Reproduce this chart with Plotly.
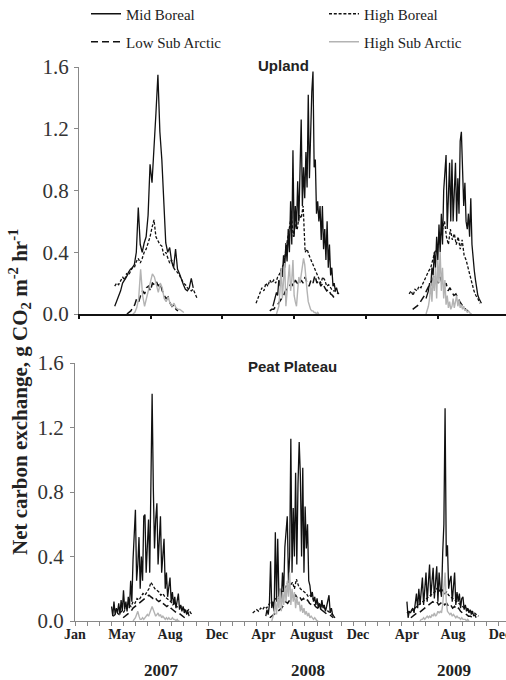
import plotly.graph_objects as go
import pandas as pd

# ---------------- data ----------------
SERIES = ["Mid Boreal", "High Boreal", "Low Sub Arctic", "High Sub Arctic"]
PANELS = ["Upland", "Peat Plateau"]
YEAR_LABELS = ["2007", "2008", "2009"]
MONTH_LABELS = ["Jan", "May", "Aug", "Dec", "Apr", "August", "Dec", "Apr", "Aug", "Dec"]
MONTH_LABEL_DATES = ["2007-01-01", "2007-04-29", "2007-08-28", "2007-12-24", "2008-04-19",
                     "2008-08-18", "2008-12-13", "2009-04-15", "2009-08-09", "2009-12-05"]
Y_TICKS = [0.0, 0.4, 0.8, 1.2, 1.6]

# Upland -------------------------------------------------------------
U_MB_2007 = [0.05, 0.08, 0.12, 0.15, 0.2, 0.22, 0.24, 0.27, 0.29, 0.3, 0.32, 0.4, 0.69, 0.45, 0.4, 0.46,
             0.5, 0.64, 0.97, 0.85, 1.05, 1.3, 1.55, 1.18, 1.0, 0.7, 0.46, 0.4, 0.43, 0.34, 0.3, 0.42,
             0.29, 0.26, 0.22, 0.19, 0.16, 0.15, 0.17, 0.23, 0.17]
U_HB_2007 = [0.18, 0.2, 0.19, 0.22, 0.24, 0.22, 0.26, 0.25, 0.28, 0.3, 0.3, 0.34, 0.36, 0.33, 0.36, 0.4,
             0.42, 0.46, 0.5, 0.56, 0.61, 0.5, 0.47, 0.45, 0.44, 0.38, 0.4, 0.36, 0.33, 0.35, 0.3, 0.28,
             0.27, 0.25, 0.22, 0.2, 0.19, 0.17, 0.16, 0.15, 0.16, 0.13, 0.1]
U_LSA_2007 = [0.0, 0.01, 0.02, 0.04, 0.06, 0.1, 0.08, 0.12, 0.15, 0.13, 0.17, 0.18, 0.15, 0.2, 0.19, 0.21,
              0.18, 0.2, 0.15, 0.12, 0.1, 0.11, 0.07, 0.05, 0.06, 0.03, 0.02]
U_HSA_2007 = [0.0, 0.01, 0.04, 0.1, 0.29, 0.12, 0.05, 0.1, 0.16, 0.2, 0.26, 0.24, 0.18, 0.14, 0.2, 0.17,
              0.1, 0.08, 0.11, 0.07, 0.05, 0.07, 0.04, 0.03, 0.03, 0.02, 0.01]

U_MB_2008 = [0.05, 0.08, 0.1, 0.14, 0.12, 0.22, 0.18, 0.28, 0.24, 0.38, 0.3, 0.46, 0.34, 0.55, 0.4, 0.73,
             0.45, 1.06, 0.5, 0.7, 0.55, 0.86, 0.6, 0.9, 1.26, 0.7, 0.95, 0.75, 1.05, 0.82, 1.42, 0.88,
             1.2, 1.44, 1.57, 0.95, 1.0, 0.65, 0.73, 0.6, 0.7, 0.48, 0.7, 0.42, 0.55, 0.35, 0.6, 0.3,
             0.45, 0.25, 0.3, 0.18, 0.2, 0.15, 0.17, 0.14, 0.13]
U_HB_2008 = [0.07, 0.1, 0.13, 0.17, 0.15, 0.2, 0.18, 0.22, 0.2, 0.22, 0.2, 0.24, 0.26, 0.3, 0.32, 0.4,
             0.45, 0.55, 0.64, 0.5, 0.58, 0.55, 0.64, 0.62, 0.7, 0.4, 0.42, 0.38, 0.35, 0.32, 0.28, 0.26,
             0.22, 0.2, 0.24, 0.22, 0.18, 0.19, 0.17, 0.15, 0.15, 0.14, 0.13]
U_LSA_2008 = [0.02, 0.03, 0.03, 0.05, 0.06, 0.08, 0.1, 0.12, 0.15, 0.17, 0.18, 0.2, 0.18, 0.22, 0.2, 0.19,
              0.22, 0.2, 0.24, 0.2, 0.18, 0.22, 0.2, 0.25, 0.2, 0.22, 0.18, 0.2, 0.17, 0.15, 0.16, 0.13,
              0.12, 0.1]
U_HSA_2008 = [0.0, 0.02, 0.05, 0.15, 0.3, 0.1, 0.2, 0.33, 0.05, 0.15, 0.25, 0.32, 0.15, 0.22, 0.35, 0.12,
              0.08, 0.05, 0.15, 0.24, 0.2, 0.25, 0.3, 0.36, 0.32, 0.2, 0.15, 0.08, 0.05, 0.03, 0.02, 0.02,
              0.01, 0.01, 0.0, 0.01, 0.0]

U_MB_2009 = [0.1, 0.12, 0.15, 0.2, 0.18, 0.3, 0.25, 0.4, 0.3, 0.5, 0.35, 0.58, 0.4, 0.65, 0.45, 0.8,
             0.92, 1.03, 0.55, 0.75, 0.98, 0.6, 1.0, 0.6, 0.75, 0.98, 0.6, 0.88, 0.65, 1.12, 1.18, 0.9,
             0.7, 0.85, 0.6, 0.55, 0.65, 0.5, 0.75, 0.45, 0.35, 0.28, 0.22, 0.15, 0.12, 0.1, 0.08, 0.07]
U_HB_2009 = [0.13, 0.15, 0.12, 0.16, 0.15, 0.18, 0.17, 0.2, 0.22, 0.25, 0.28, 0.3, 0.35, 0.4, 0.42, 0.45,
             0.5, 0.55, 0.6, 0.5, 0.45, 0.55, 0.48, 0.52, 0.45, 0.5, 0.42, 0.48, 0.38, 0.35, 0.3, 0.25,
             0.2, 0.15, 0.12, 0.1, 0.07]
U_LSA_2009 = [0.03, 0.04, 0.05, 0.06, 0.08, 0.1, 0.12, 0.15, 0.18, 0.2, 0.22, 0.25, 0.22, 0.2, 0.24, 0.2,
              0.18, 0.2, 0.15, 0.17, 0.14, 0.12, 0.13, 0.1, 0.08, 0.06, 0.05, 0.03, 0.02]
U_HSA_2009 = [0.0, 0.02, 0.05, 0.1, 0.2, 0.08, 0.25, 0.15, 0.3, 0.1, 0.35, 0.2, 0.4, 0.15, 0.3, 0.1,
              0.22, 0.06, 0.12, 0.04, 0.08, 0.03, 0.05, 0.1, 0.04, 0.08, 0.12, 0.05, 0.09, 0.04, 0.06, 0.03,
              0.05, 0.02, 0.03, 0.01, 0.02, 0.01, 0.0, 0.0]

# Peat Plateau -------------------------------------------------------
P_MB_2007 = [0.09, 0.03, 0.12, 0.04, 0.08, 0.05, 0.11, 0.04, 0.13, 0.06, 0.19, 0.07, 0.12, 0.06, 0.15, 0.08,
             0.25, 0.12, 0.38, 0.5, 0.69, 0.25, 0.35, 0.52, 0.2, 0.4, 0.25, 0.65, 0.66, 0.3, 0.45, 0.63,
             0.3, 1.1, 1.41, 0.83, 0.45, 0.63, 0.73, 0.35, 0.5, 0.65, 0.3, 0.4, 0.51, 0.2, 0.3, 0.15,
             0.22, 0.27, 0.12, 0.18, 0.1, 0.15, 0.08, 0.12, 0.17, 0.07, 0.1, 0.06, 0.09, 0.05, 0.07, 0.04,
             0.06, 0.03]
P_HB_2007 = [0.03, 0.04, 0.05, 0.04, 0.06, 0.05, 0.07, 0.08, 0.1, 0.09, 0.12, 0.11, 0.14, 0.13, 0.15, 0.17,
             0.16, 0.18, 0.2, 0.24, 0.22, 0.2, 0.19, 0.18, 0.16, 0.17, 0.15, 0.14, 0.13, 0.12, 0.1, 0.11,
             0.09, 0.08, 0.09, 0.08, 0.07, 0.06, 0.07, 0.05, 0.04]
P_LSA_2007 = [0.02, 0.03, 0.04, 0.05, 0.06, 0.08, 0.09, 0.1, 0.11, 0.12, 0.13, 0.14, 0.15, 0.16, 0.15, 0.14,
              0.15, 0.13, 0.12, 0.13, 0.11, 0.1, 0.09, 0.1, 0.08, 0.07, 0.06, 0.05, 0.05, 0.04, 0.03, 0.02]
P_HSA_2007 = [0.0, 0.01, 0.02, 0.04, 0.06, 0.03, 0.01, 0.01, 0.02, 0.01, 0.02, 0.03, 0.04, 0.03, 0.05, 0.08,
              0.09, 0.07, 0.05, 0.03, 0.04, 0.05, 0.03, 0.04, 0.02, 0.03, 0.02, 0.01, 0.02, 0.01, 0.02, 0.01,
              0.01, 0.02, 0.01, 0.01, 0.0, 0.01, 0.0, 0.0]

P_MB_2008 = [0.03, 0.07, 0.04, 0.1, 0.37, 0.08, 0.12, 0.06, 0.55, 0.12, 0.51, 0.15, 0.2, 0.12, 0.3, 0.18,
             0.46, 0.54, 0.65, 0.25, 0.4, 1.13, 0.3, 0.7, 0.4, 0.92, 0.35, 0.85, 1.11, 0.9, 0.4, 0.95,
             0.3, 0.71, 0.45, 0.6, 0.25, 0.22, 0.15, 0.18, 0.12, 0.15, 0.1, 0.14, 0.08, 0.11, 0.07, 0.13,
             0.08, 0.1, 0.06, 0.09, 0.12, 0.16, 0.05, 0.08, 0.04, 0.03, 0.02]
P_HB_2008 = [0.05, 0.06, 0.07, 0.06, 0.08, 0.07, 0.09, 0.08, 0.1, 0.12, 0.11, 0.13, 0.15, 0.14, 0.16, 0.18,
             0.2, 0.22, 0.25, 0.22, 0.24, 0.2, 0.26, 0.22, 0.2, 0.19, 0.18, 0.17, 0.15, 0.16, 0.14, 0.13,
             0.12, 0.11, 0.1, 0.09, 0.08, 0.07, 0.06, 0.05, 0.04, 0.03]
P_LSA_2008 = [0.02, 0.03, 0.04, 0.05, 0.06, 0.07, 0.08, 0.1, 0.12, 0.11, 0.13, 0.14, 0.15, 0.16, 0.14, 0.15,
              0.13, 0.14, 0.12, 0.13, 0.11, 0.1, 0.11, 0.09, 0.08, 0.09, 0.07, 0.06, 0.05, 0.04, 0.04, 0.03,
              0.02]
P_HSA_2008 = [0.0, 0.02, 0.05, 0.12, 0.04, 0.15, 0.08, 0.2, 0.06, 0.18, 0.1, 0.22, 0.12, 0.25, 0.15, 0.3,
              0.1, 0.2, 0.12, 0.18, 0.08, 0.15, 0.1, 0.12, 0.06, 0.1, 0.05, 0.08, 0.04, 0.06, 0.03, 0.05,
              0.02, 0.03, 0.02, 0.01, 0.02, 0.01, 0.0, 0.0]

P_MB_2009 = [0.12, 0.02, 0.06, 0.05, 0.07, 0.08, 0.05, 0.12, 0.17, 0.08, 0.2, 0.1, 0.22, 0.27, 0.1, 0.2,
             0.3, 0.12, 0.25, 0.35, 0.15, 0.25, 0.33, 0.14, 0.28, 0.34, 0.12, 0.3, 0.2, 0.15, 0.42, 0.6,
             1.32, 0.4, 0.47, 0.2, 0.25, 0.28, 0.12, 0.22, 0.3, 0.1, 0.18, 0.12, 0.17, 0.08, 0.14, 0.15,
             0.07, 0.1, 0.06, 0.08, 0.05, 0.07, 0.04, 0.06, 0.03, 0.04, 0.02]
P_HB_2009 = [0.05, 0.06, 0.06, 0.07, 0.08, 0.09, 0.1, 0.11, 0.12, 0.13, 0.14, 0.15, 0.16, 0.17, 0.18, 0.2,
             0.18, 0.2, 0.19, 0.17, 0.18, 0.16, 0.15, 0.14, 0.13, 0.12, 0.11, 0.1, 0.09, 0.08, 0.08, 0.07,
             0.06, 0.06, 0.05, 0.04, 0.03]
P_LSA_2009 = [0.02, 0.03, 0.04, 0.05, 0.05, 0.06, 0.07, 0.08, 0.09, 0.1, 0.11, 0.12, 0.11, 0.12, 0.1, 0.11,
              0.12, 0.1, 0.11, 0.09, 0.1, 0.08, 0.09, 0.07, 0.08, 0.06, 0.05, 0.05, 0.04, 0.03, 0.03, 0.02,
              0.02]
P_HSA_2009 = [0.0, 0.01, 0.01, 0.02, 0.01, 0.02, 0.03, 0.02, 0.03, 0.02, 0.04, 0.03, 0.05, 0.03, 0.04, 0.06,
              0.05, 0.06, 0.05, 0.1, 0.2, 0.3, 0.12, 0.06, 0.05, 0.04, 0.05, 0.03, 0.04, 0.03, 0.02, 0.03,
              0.02, 0.02, 0.01, 0.02, 0.01, 0.01, 0.01, 0.0, 0.01, 0.0]

# (start date, sampling step in days, values) of every measured season
U_STARTS = {
    "Mid Boreal": [("2007-04-02", 5, U_MB_2007), ("2008-05-09", 3, U_MB_2008), ("2009-06-03", 3, U_MB_2009)],
    "High Boreal": [("2007-04-02", 5, U_HB_2007), ("2008-03-27", 5, U_HB_2008), ("2009-04-21", 5, U_HB_2009)],
    "Low Sub Arctic": [("2007-05-03", 5, U_LSA_2007), ("2008-05-01", 5, U_LSA_2008), ("2009-04-30", 5, U_LSA_2009)],
    "High Sub Arctic": [("2007-05-18", 5, U_HSA_2007), ("2008-05-18", 3, U_HSA_2008), ("2009-06-03", 3, U_HSA_2009)],
}
P_STARTS = {
    "Mid Boreal": [("2007-04-03", 3, P_MB_2007), ("2008-04-25", 3, P_MB_2008), ("2009-04-15", 3, P_MB_2009)],
    "High Boreal": [("2007-04-07", 5, P_HB_2007), ("2008-03-23", 5, P_HB_2008), ("2009-04-15", 5, P_HB_2009)],
    "Low Sub Arctic": [("2007-05-02", 5, P_LSA_2007), ("2008-05-05", 5, P_LSA_2008), ("2009-04-25", 5, P_LSA_2009)],
    "High Sub Arctic": [("2007-05-27", 3, P_HSA_2007), ("2008-05-10", 3, P_HSA_2008), ("2009-05-18", 3, P_HSA_2009)],
}

# ---------------- helpers ----------------
ORIGIN = pd.Timestamp("2007-01-01")
DPM = 30.44  # days per month


def to_month(date_str):
    return (pd.Timestamp(date_str) - ORIGIN).days / DPM


def build(segments):
    xs, ys = [], []
    for start, step, vals in segments:
        d0 = (pd.Timestamp(start) - ORIGIN).days
        xs += [(d0 + step * i) / DPM for i in range(len(vals))] + [None]
        ys += list(vals) + [None]
    return xs, ys


STYLE = {
    "Mid Boreal": dict(color="#111111", width=1.3, dash="solid"),
    "High Boreal": dict(color="#111111", width=1.3, dash="3px,1.8px"),
    "Low Sub Arctic": dict(color="#111111", width=1.5, dash="7px,4px"),
    "High Sub Arctic": dict(color="#b3b3b3", width=1.4, dash="solid"),
}
LEGEND_ID = {"Mid Boreal": "legend", "High Boreal": "legend2",
             "Low Sub Arctic": "legend3", "High Sub Arctic": "legend4"}

fig = go.Figure()
for panel, starts, xa, ya in [("Upland", U_STARTS, "x", "y"), ("Peat Plateau", P_STARTS, "x2", "y2")]:
    for s in SERIES:
        xs, ys = build(starts[s])
        fig.add_trace(go.Scatter(
            x=xs, y=ys, mode="lines", name=s, line=STYLE[s],
            xaxis=xa, yaxis=ya, connectgaps=False,
            showlegend=(panel == "Upland"), legend=LEGEND_ID[s], hoverinfo="skip"))

W, H = 506, 680
SERIF = "Liberation Serif"
SANS = "Liberation Sans"


def px(v):
    return v / W


def py(v):
    return 1 - v / H


ytick_text = ["%.1f" % v for v in Y_TICKS]
yaxis_common = dict(range=[0, 1.6], tickvals=Y_TICKS, ticktext=ytick_text, ticks="outside",
                    ticklen=4, tickcolor="#888888", showline=True, linecolor="#888888", linewidth=1,
                    showgrid=False, zeroline=False, tickfont=dict(family=SERIF, size=21, color="#333333"))

legend_common = dict(orientation="h", bgcolor="rgba(0,0,0,0)", borderwidth=0,
                     font=dict(family=SERIF, size=15, color="#222222"),
                     xanchor="left", yanchor="middle", itemclick=False, itemdoubleclick=False)

fig.update_layout(
    width=W, height=H, margin=dict(l=0, r=0, t=0, b=0, autoexpand=False),
    paper_bgcolor="white", plot_bgcolor="white",
    xaxis=dict(domain=[px(79), 1], range=[0, 427 / 11.95], anchor="y", showline=True,
               linecolor="#111111", linewidth=2.2, ticks="outside", tick0=0, dtick=6, ticklen=3,
               tickcolor="#111111", tickwidth=1.5, showticklabels=False, showgrid=False, zeroline=False),
    yaxis=dict(domain=[py(314), py(67)], anchor="x", ticklabelstandoff=1, **yaxis_common),
    xaxis2=dict(domain=[px(75), 1], range=[0, 431 / 12.1], anchor="y2", showline=True,
                linecolor="#888888", linewidth=1, ticks="", ticklabeloverflow="allow",
                tickvals=[to_month(d) for d in MONTH_LABEL_DATES], ticktext=MONTH_LABELS,
                tickfont=dict(family=SERIF, size=14, color="#222222", weight="bold"),
                minor=dict(ticks="outside", tick0=0, dtick=1, ticklen=4, tickcolor="#888888"),
                showgrid=False, zeroline=False),
    yaxis2=dict(domain=[py(621), py(363)], anchor="x2", ticklabelstandoff=2, **yaxis_common),
    legend=dict(x=px(86), y=py(14), **legend_common),
    legend2=dict(x=px(324), y=py(14), **legend_common),
    legend3=dict(x=px(86), y=py(42), **legend_common),
    legend4=dict(x=px(324), y=py(42), **legend_common),
    showlegend=True,
)

annotations = [
    dict(text="<b>Net carbon exchange, g CO<sub>2</sub> m<sup>-2</sup> hr<sup>-1</sup></b>",
         x=px(20), y=py(392), xref="paper", yref="paper", textangle=-90, showarrow=False,
         font=dict(family=SERIF, size=21, color="#222222"), xanchor="center", yanchor="middle"),
    dict(text="<b>" + PANELS[0] + "</b>", x=px(283), y=py(66), xref="paper", yref="paper",
         showarrow=False, font=dict(family=SANS, size=15, color="#222222"),
         xanchor="center", yanchor="middle"),
    dict(text="<b>" + PANELS[1] + "</b>", x=px(292), y=py(366), xref="paper", yref="paper",
         showarrow=False, font=dict(family=SANS, size=15, color="#222222"),
         xanchor="center", yanchor="middle"),
]
for label, xc in zip(YEAR_LABELS, [161, 308, 454]):
    annotations.append(dict(text="<b>" + label + "</b>", x=px(xc), y=py(670), xref="paper",
                            yref="paper", showarrow=False,
                            font=dict(family=SERIF, size=17, color="#222222"),
                            xanchor="center", yanchor="middle", borderpad=0))
fig.update_layout(annotations=annotations)

fig.write_html("out.html")
